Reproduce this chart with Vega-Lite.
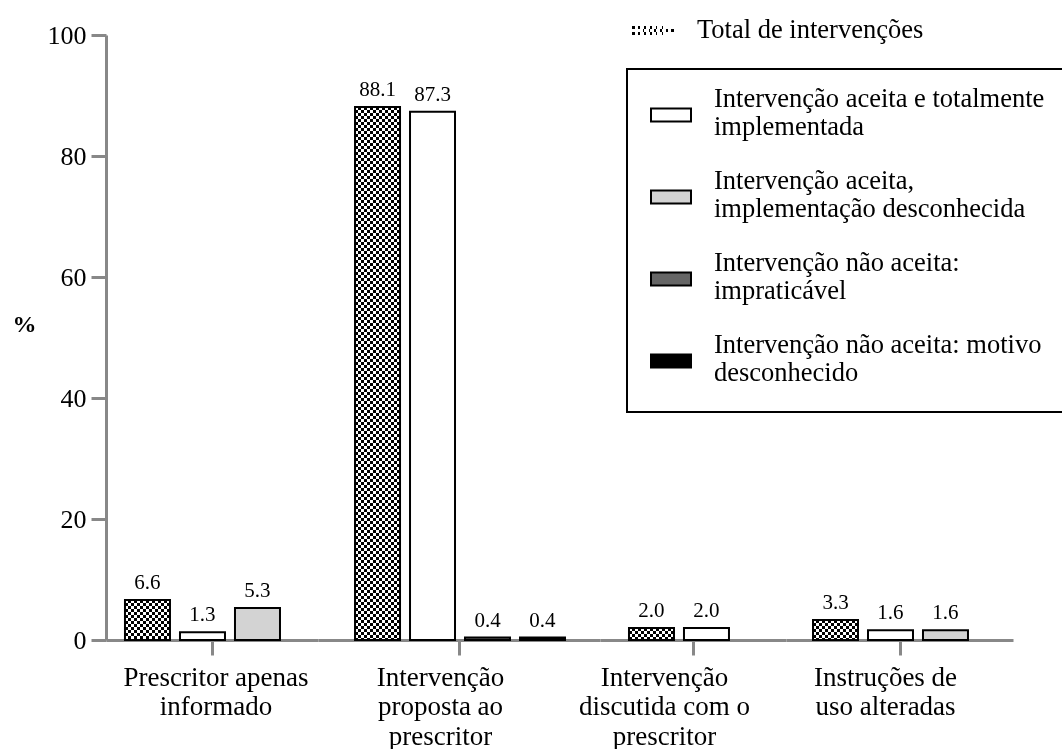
{
  "$schema": "https://vega.github.io/schema/vega-lite/v6.json",
  "background": "white",
  "padding": {"left": 12, "top": 10, "right": 0, "bottom": 0},
  "config": {"view": {"stroke": null}, "font": "Liberation Serif"},
  "datasets": {
    "d": [
      {"cat": "Prescritor apenas informado", "series": "Total de intervenções", "value": 6.6},
      {"cat": "Prescritor apenas informado", "series": "Intervenção aceita e totalmente implementada", "value": 1.3},
      {"cat": "Prescritor apenas informado", "series": "Intervenção aceita, implementação desconhecida", "value": 5.3},
      {"cat": "Intervenção proposta ao prescritor", "series": "Total de intervenções", "value": 88.1},
      {"cat": "Intervenção proposta ao prescritor", "series": "Intervenção aceita e totalmente implementada", "value": 87.3},
      {"cat": "Intervenção proposta ao prescritor", "series": "Intervenção não aceita: impraticável", "value": 0.4},
      {"cat": "Intervenção proposta ao prescritor", "series": "Intervenção não aceita: motivo desconhecido", "value": 0.4},
      {"cat": "Intervenção discutida com o prescritor", "series": "Total de intervenções", "value": 2.0},
      {"cat": "Intervenção discutida com o prescritor", "series": "Intervenção aceita e totalmente implementada", "value": 2.0},
      {"cat": "Instruções de uso alteradas", "series": "Total de intervenções", "value": 3.3},
      {"cat": "Instruções de uso alteradas", "series": "Intervenção aceita e totalmente implementada", "value": 1.6},
      {"cat": "Instruções de uso alteradas", "series": "Intervenção aceita, implementação desconhecida", "value": 1.6}
    ]
  },
  "data": {"name": "d"},
  "spacing": 0,
  "bounds": "flush",
  "resolve": {
    "scale": {"x": "independent", "y": "independent", "fill": "independent", "opacity": "independent"},
    "axis": {"x": "independent", "y": "independent"},
    "legend": {"fill": "independent", "opacity": "independent"}
  },
  "hconcat": [
    {
      "width": 212, "height": 605,
      "transform": [{"filter": "datum.cat == 'Prescritor apenas informado'"}],
      "resolve": {"scale": {"x": "independent"}, "axis": {"x": "independent"}},
      "layer": [
        {
          "encoding": {
            "x": {"field": "series", "type": "nominal", "sort": ["Total de intervenções", "Intervenção aceita e totalmente implementada", "Intervenção aceita, implementação desconhecida", "Intervenção não aceita: impraticável", "Intervenção não aceita: motivo desconhecido"], "scale": {"paddingInner": 0.1818, "paddingOuter": 0.518, "align": 0.333}, "axis": null},
            "y": {"field": "value", "type": "quantitative", "scale": {"domain": [0, 100], "nice": false},
              "axis": {"title": "%", "titleFont": "Liberation Serif", "titleFontSize": 24, "titleFontWeight": "bold", "titleColor": "black", "titleAngle": 0, "titleAlign": "center", "titleBaseline": "middle", "titleX": -82, "titleY": 289, "values": [0, 20, 40, 60, 80, 100], "domainColor": "#888888", "domainWidth": 3, "tickColor": "#888888", "tickWidth": 3, "tickSize": 15, "labelFont": "Liberation Serif", "labelFontSize": 26, "labelColor": "black", "labelPadding": 5, "grid": false}}
          },
          "layer": [
            {
              "transform": [{"filter": "datum.series == 'Total de intervenções'"}],
              "mark": {"type": "bar", "strokeWidth": 0, "fill": {"gradient": "linear", "x1": 0, "y1": 0, "x2": 1, "y2": 0, "stops": [{"offset": 0, "color": "#000"}, {"offset": 0.06667, "color": "#000"}, {"offset": 0.06667, "color": "#fff"}, {"offset": 0.13333, "color": "#fff"}, {"offset": 0.13333, "color": "#000"}, {"offset": 0.2, "color": "#000"}, {"offset": 0.2, "color": "#fff"}, {"offset": 0.26667, "color": "#fff"}, {"offset": 0.26667, "color": "#000"}, {"offset": 0.33333, "color": "#000"}, {"offset": 0.33333, "color": "#fff"}, {"offset": 0.4, "color": "#fff"}, {"offset": 0.4, "color": "#000"}, {"offset": 0.46667, "color": "#000"}, {"offset": 0.46667, "color": "#fff"}, {"offset": 0.53333, "color": "#fff"}, {"offset": 0.53333, "color": "#000"}, {"offset": 0.6, "color": "#000"}, {"offset": 0.6, "color": "#fff"}, {"offset": 0.66667, "color": "#fff"}, {"offset": 0.66667, "color": "#000"}, {"offset": 0.73333, "color": "#000"}, {"offset": 0.73333, "color": "#fff"}, {"offset": 0.8, "color": "#fff"}, {"offset": 0.8, "color": "#000"}, {"offset": 0.86667, "color": "#000"}, {"offset": 0.86667, "color": "#fff"}, {"offset": 0.93333, "color": "#fff"}, {"offset": 0.93333, "color": "#000"}, {"offset": 1, "color": "#000"}]}},
              "encoding": {
                "opacity": {"field": "series", "type": "ordinal", "scale": {"domain": ["Total de intervenções"], "range": [1, 1]},
                  "legend": {"orient": "none", "legendX": 527, "legendY": -25, "title": null, "padding": 0, "symbolType": "M-1.05,-0.2H-0.9V-0.05H-1.05ZM-0.75,-0.2H-0.6V-0.05H-0.75ZM-0.45,-0.2H-0.3V-0.05H-0.45ZM-0.15,-0.2H0V-0.05H-0.15ZM0.15,-0.2H0.3V-0.05H0.15ZM0.45,-0.2H0.6V-0.05H0.45ZM0.75,-0.2H0.9V-0.05H0.75ZM-0.9,-0.05H-0.75V0.1H-0.9ZM-0.6,-0.05H-0.45V0.1H-0.6ZM-0.3,-0.05H-0.15V0.1H-0.3ZM0,-0.05H0.15V0.1H0ZM0.3,-0.05H0.45V0.1H0.3ZM0.6,-0.05H0.75V0.1H0.6ZM0.9,-0.05H1.05V0.1H0.9ZM-1.05,0.1H-0.9V0.25H-1.05ZM-0.75,0.1H-0.6V0.25H-0.75ZM-0.45,0.1H-0.3V0.25H-0.45ZM-0.15,0.1H0V0.25H-0.15ZM0.15,0.1H0.3V0.25H0.15ZM0.45,0.1H0.6V0.25H0.45ZM0.75,0.1H0.9V0.25H0.75Z", "symbolSize": 1600, "symbolStrokeWidth": 0, "symbolFillColor": "black", "labelFont": "Liberation Serif", "labelFontSize": 26.5, "labelColor": "black", "labelOffset": 24, "labelLimit": 0,
                    "encode": {"symbols": {"update": {"fill": {"value": "black"}, "opacity": {"value": 1}, "stroke": {"value": "transparent"}}}}}}
              }
            },
            {
              "transform": [{"filter": "datum.series == 'Total de intervenções'"}],
              "mark": {"type": "rule", "stroke": "white", "strokeWidth": 45, "strokeDash": [3, 3], "blend": "difference"},
              "encoding": {"y2": {"datum": 0}}
            },
            {
              "transform": [{"filter": "datum.series == 'Total de intervenções'"}],
              "mark": {"type": "bar", "fillOpacity": 0, "stroke": "black", "strokeWidth": 2}
            },
            {
              "transform": [{"filter": "datum.series != 'Total de intervenções'"}],
              "mark": {"type": "bar", "stroke": "black", "strokeWidth": 2},
              "encoding": {
                "fill": {"field": "series", "type": "nominal", "scale": {"domain": ["Intervenção aceita e totalmente implementada", "Intervenção aceita, implementação desconhecida", "Intervenção não aceita: impraticável", "Intervenção não aceita: motivo desconhecido"], "range": ["#ffffff", "#d3d3d3", "#666666", "#000000"]},
                  "legend": {"orient": "none", "legendX": 521, "legendY": 34, "title": null, "padding": 25, "symbolOffset": -2, "labelOffset": 22, "rowPadding": 27, "strokeColor": "black", "symbolType": "M-1,-0.325H1V0.325H-1Z", "symbolSize": 1600, "symbolStrokeColor": "black", "symbolStrokeWidth": 2, "labelFont": "Liberation Serif", "labelFontSize": 26.5, "labelColor": "black", "labelLimit": 0,
                    "labelExpr": "datum.label == 'Intervenção aceita e totalmente implementada' ? ['Intervenção aceita e totalmente', 'implementada'] : datum.label == 'Intervenção aceita, implementação desconhecida' ? ['Intervenção aceita,', 'implementação desconhecida'] : datum.label == 'Intervenção não aceita: impraticável' ? ['Intervenção não aceita:', 'impraticável'] : ['Intervenção não aceita: motivo', 'desconhecido']",
                    "encode": {"labels": {"update": {"lineHeight": {"value": 28}, "dy": {"value": -16}}}, "symbols": {"update": {"stroke": {"value": "black"}, "strokeWidth": {"value": 2}}}, "legend": {"update": {"strokeWidth": {"value": 2}}}}}}
              }
            },
            {
              "mark": {"type": "text", "baseline": "alphabetic", "dy": -11, "fontSize": 21, "font": "Liberation Serif", "fill": "black"},
              "encoding": {"text": {"field": "value", "type": "quantitative", "format": ".1f"}}
            }
          ]
        },
        {
          "mark": {"type": "point", "opacity": 0},
          "encoding": {"x": {"field": "cat", "type": "nominal", "title": null,
            "axis": {"orient": "bottom", "title": null, "domainColor": "#888888", "domainWidth": 3, "tickColor": "#888888", "tickWidth": 3, "tickSize": 15, "labelAngle": 0, "labelFont": "Liberation Serif", "labelFontSize": 27, "labelColor": "black", "labelLineHeight": 29.5, "labelPadding": 9, "labelLimit": 0, "labelBaseline": "top", "labelOffset": 3.5, "grid": false, "labelExpr": "['Prescritor apenas', 'informado']"}}}
        }
      ]
    },
    {
      "width": 282, "height": 605,
      "transform": [{"filter": "datum.cat == 'Intervenção proposta ao prescritor'"}],
      "resolve": {"scale": {"x": "independent"}, "axis": {"x": "independent"}},
      "layer": [
        {
          "encoding": {
            "x": {"field": "series", "type": "nominal", "sort": ["Total de intervenções", "Intervenção aceita e totalmente implementada", "Intervenção aceita, implementação desconhecida", "Intervenção não aceita: impraticável", "Intervenção não aceita: motivo desconhecido"], "scale": {"paddingInner": 0.1818, "paddingOuter": 0.655, "align": 0.514}, "axis": null},
            "y": {"field": "value", "type": "quantitative", "scale": {"domain": [0, 100], "nice": false}, "axis": null}
          },
          "layer": [
            {
              "transform": [{"filter": "datum.series == 'Total de intervenções'"}],
              "mark": {"type": "bar", "strokeWidth": 0, "fill": {"gradient": "linear", "x1": 0, "y1": 0, "x2": 1, "y2": 0, "stops": [{"offset": 0, "color": "#000"}, {"offset": 0.06667, "color": "#000"}, {"offset": 0.06667, "color": "#fff"}, {"offset": 0.13333, "color": "#fff"}, {"offset": 0.13333, "color": "#000"}, {"offset": 0.2, "color": "#000"}, {"offset": 0.2, "color": "#fff"}, {"offset": 0.26667, "color": "#fff"}, {"offset": 0.26667, "color": "#000"}, {"offset": 0.33333, "color": "#000"}, {"offset": 0.33333, "color": "#fff"}, {"offset": 0.4, "color": "#fff"}, {"offset": 0.4, "color": "#000"}, {"offset": 0.46667, "color": "#000"}, {"offset": 0.46667, "color": "#fff"}, {"offset": 0.53333, "color": "#fff"}, {"offset": 0.53333, "color": "#000"}, {"offset": 0.6, "color": "#000"}, {"offset": 0.6, "color": "#fff"}, {"offset": 0.66667, "color": "#fff"}, {"offset": 0.66667, "color": "#000"}, {"offset": 0.73333, "color": "#000"}, {"offset": 0.73333, "color": "#fff"}, {"offset": 0.8, "color": "#fff"}, {"offset": 0.8, "color": "#000"}, {"offset": 0.86667, "color": "#000"}, {"offset": 0.86667, "color": "#fff"}, {"offset": 0.93333, "color": "#fff"}, {"offset": 0.93333, "color": "#000"}, {"offset": 1, "color": "#000"}]}}
            },
            {
              "transform": [{"filter": "datum.series == 'Total de intervenções'"}],
              "mark": {"type": "rule", "stroke": "white", "strokeWidth": 45, "strokeDash": [3, 3], "blend": "difference"},
              "encoding": {"y2": {"datum": 0}}
            },
            {
              "transform": [{"filter": "datum.series == 'Total de intervenções'"}],
              "mark": {"type": "bar", "fillOpacity": 0, "stroke": "black", "strokeWidth": 2}
            },
            {
              "transform": [{"filter": "datum.series != 'Total de intervenções'"}],
              "mark": {"type": "bar", "stroke": "black", "strokeWidth": 2},
              "encoding": {
                "fill": {"field": "series", "type": "nominal", "scale": {"domain": ["Intervenção aceita e totalmente implementada", "Intervenção aceita, implementação desconhecida", "Intervenção não aceita: impraticável", "Intervenção não aceita: motivo desconhecido"], "range": ["#ffffff", "#d3d3d3", "#666666", "#000000"]}, "legend": null}
              }
            },
            {
              "mark": {"type": "text", "baseline": "alphabetic", "dy": -11, "fontSize": 21, "font": "Liberation Serif", "fill": "black"},
              "encoding": {"text": {"field": "value", "type": "quantitative", "format": ".1f"}}
            }
          ]
        },
        {
          "mark": {"type": "point", "opacity": 0},
          "encoding": {"x": {"field": "cat", "type": "nominal", "title": null,
            "axis": {"orient": "bottom", "title": null, "domainColor": "#888888", "domainWidth": 3, "tickColor": "#888888", "tickWidth": 3, "tickSize": 15, "labelAngle": 0, "labelFont": "Liberation Serif", "labelFontSize": 27, "labelColor": "black", "labelLineHeight": 29.5, "labelPadding": 9, "labelLimit": 0, "labelBaseline": "top", "labelOffset": -19, "grid": false, "labelExpr": "['Intervenção', 'proposta ao', 'prescritor']"}}}
        }
      ]
    },
    {
      "width": 186, "height": 605,
      "transform": [{"filter": "datum.cat == 'Intervenção discutida com o prescritor'"}],
      "resolve": {"scale": {"x": "independent"}, "axis": {"x": "independent"}},
      "layer": [
        {
          "encoding": {
            "x": {"field": "series", "type": "nominal", "sort": ["Total de intervenções", "Intervenção aceita e totalmente implementada", "Intervenção aceita, implementação desconhecida", "Intervenção não aceita: impraticável", "Intervenção não aceita: motivo desconhecido"], "scale": {"paddingInner": 0.1818, "paddingOuter": 0.782, "align": 0.337}, "axis": null},
            "y": {"field": "value", "type": "quantitative", "scale": {"domain": [0, 100], "nice": false}, "axis": null}
          },
          "layer": [
            {
              "transform": [{"filter": "datum.series == 'Total de intervenções'"}],
              "mark": {"type": "bar", "strokeWidth": 0, "fill": {"gradient": "linear", "x1": 0, "y1": 0, "x2": 1, "y2": 0, "stops": [{"offset": 0, "color": "#000"}, {"offset": 0.06667, "color": "#000"}, {"offset": 0.06667, "color": "#fff"}, {"offset": 0.13333, "color": "#fff"}, {"offset": 0.13333, "color": "#000"}, {"offset": 0.2, "color": "#000"}, {"offset": 0.2, "color": "#fff"}, {"offset": 0.26667, "color": "#fff"}, {"offset": 0.26667, "color": "#000"}, {"offset": 0.33333, "color": "#000"}, {"offset": 0.33333, "color": "#fff"}, {"offset": 0.4, "color": "#fff"}, {"offset": 0.4, "color": "#000"}, {"offset": 0.46667, "color": "#000"}, {"offset": 0.46667, "color": "#fff"}, {"offset": 0.53333, "color": "#fff"}, {"offset": 0.53333, "color": "#000"}, {"offset": 0.6, "color": "#000"}, {"offset": 0.6, "color": "#fff"}, {"offset": 0.66667, "color": "#fff"}, {"offset": 0.66667, "color": "#000"}, {"offset": 0.73333, "color": "#000"}, {"offset": 0.73333, "color": "#fff"}, {"offset": 0.8, "color": "#fff"}, {"offset": 0.8, "color": "#000"}, {"offset": 0.86667, "color": "#000"}, {"offset": 0.86667, "color": "#fff"}, {"offset": 0.93333, "color": "#fff"}, {"offset": 0.93333, "color": "#000"}, {"offset": 1, "color": "#000"}]}}
            },
            {
              "transform": [{"filter": "datum.series == 'Total de intervenções'"}],
              "mark": {"type": "rule", "stroke": "white", "strokeWidth": 45, "strokeDash": [3, 3], "blend": "difference"},
              "encoding": {"y2": {"datum": 0}}
            },
            {
              "transform": [{"filter": "datum.series == 'Total de intervenções'"}],
              "mark": {"type": "bar", "fillOpacity": 0, "stroke": "black", "strokeWidth": 2}
            },
            {
              "transform": [{"filter": "datum.series != 'Total de intervenções'"}],
              "mark": {"type": "bar", "stroke": "black", "strokeWidth": 2},
              "encoding": {
                "fill": {"field": "series", "type": "nominal", "scale": {"domain": ["Intervenção aceita e totalmente implementada", "Intervenção aceita, implementação desconhecida", "Intervenção não aceita: impraticável", "Intervenção não aceita: motivo desconhecido"], "range": ["#ffffff", "#d3d3d3", "#666666", "#000000"]}, "legend": null}
              }
            },
            {
              "mark": {"type": "text", "baseline": "alphabetic", "dy": -11, "fontSize": 21, "font": "Liberation Serif", "fill": "black"},
              "encoding": {"text": {"field": "value", "type": "quantitative", "format": ".1f"}}
            }
          ]
        },
        {
          "mark": {"type": "point", "opacity": 0},
          "encoding": {"x": {"field": "cat", "type": "nominal", "title": null,
            "axis": {"orient": "bottom", "title": null, "domainColor": "#888888", "domainWidth": 3, "tickColor": "#888888", "tickWidth": 3, "tickSize": 15, "labelAngle": 0, "labelFont": "Liberation Serif", "labelFontSize": 27, "labelColor": "black", "labelLineHeight": 29.5, "labelPadding": 9, "labelLimit": 0, "labelBaseline": "top", "labelOffset": -29, "grid": false, "labelExpr": "['Intervenção', 'discutida com o', 'prescritor']"}}}
        }
      ]
    },
    {
      "width": 227, "height": 605,
      "transform": [{"filter": "datum.cat == 'Instruções de uso alteradas'"}],
      "resolve": {"scale": {"x": "independent"}, "axis": {"x": "independent"}},
      "layer": [
        {
          "encoding": {
            "x": {"field": "series", "type": "nominal", "sort": ["Total de intervenções", "Intervenção aceita e totalmente implementada", "Intervenção aceita, implementação desconhecida", "Intervenção não aceita: impraticável", "Intervenção não aceita: motivo desconhecido"], "scale": {"paddingInner": 0.1818, "paddingOuter": 0.655, "align": 0.375}, "axis": null},
            "y": {"field": "value", "type": "quantitative", "scale": {"domain": [0, 100], "nice": false}, "axis": null}
          },
          "layer": [
            {
              "transform": [{"filter": "datum.series == 'Total de intervenções'"}],
              "mark": {"type": "bar", "strokeWidth": 0, "fill": {"gradient": "linear", "x1": 0, "y1": 0, "x2": 1, "y2": 0, "stops": [{"offset": 0, "color": "#000"}, {"offset": 0.06667, "color": "#000"}, {"offset": 0.06667, "color": "#fff"}, {"offset": 0.13333, "color": "#fff"}, {"offset": 0.13333, "color": "#000"}, {"offset": 0.2, "color": "#000"}, {"offset": 0.2, "color": "#fff"}, {"offset": 0.26667, "color": "#fff"}, {"offset": 0.26667, "color": "#000"}, {"offset": 0.33333, "color": "#000"}, {"offset": 0.33333, "color": "#fff"}, {"offset": 0.4, "color": "#fff"}, {"offset": 0.4, "color": "#000"}, {"offset": 0.46667, "color": "#000"}, {"offset": 0.46667, "color": "#fff"}, {"offset": 0.53333, "color": "#fff"}, {"offset": 0.53333, "color": "#000"}, {"offset": 0.6, "color": "#000"}, {"offset": 0.6, "color": "#fff"}, {"offset": 0.66667, "color": "#fff"}, {"offset": 0.66667, "color": "#000"}, {"offset": 0.73333, "color": "#000"}, {"offset": 0.73333, "color": "#fff"}, {"offset": 0.8, "color": "#fff"}, {"offset": 0.8, "color": "#000"}, {"offset": 0.86667, "color": "#000"}, {"offset": 0.86667, "color": "#fff"}, {"offset": 0.93333, "color": "#fff"}, {"offset": 0.93333, "color": "#000"}, {"offset": 1, "color": "#000"}]}}
            },
            {
              "transform": [{"filter": "datum.series == 'Total de intervenções'"}],
              "mark": {"type": "rule", "stroke": "white", "strokeWidth": 45, "strokeDash": [3, 3], "blend": "difference"},
              "encoding": {"y2": {"datum": 0}}
            },
            {
              "transform": [{"filter": "datum.series == 'Total de intervenções'"}],
              "mark": {"type": "bar", "fillOpacity": 0, "stroke": "black", "strokeWidth": 2}
            },
            {
              "transform": [{"filter": "datum.series != 'Total de intervenções'"}],
              "mark": {"type": "bar", "stroke": "black", "strokeWidth": 2},
              "encoding": {
                "fill": {"field": "series", "type": "nominal", "scale": {"domain": ["Intervenção aceita e totalmente implementada", "Intervenção aceita, implementação desconhecida", "Intervenção não aceita: impraticável", "Intervenção não aceita: motivo desconhecido"], "range": ["#ffffff", "#d3d3d3", "#666666", "#000000"]}, "legend": null}
              }
            },
            {
              "mark": {"type": "text", "baseline": "alphabetic", "dy": -11, "fontSize": 21, "font": "Liberation Serif", "fill": "black"},
              "encoding": {"text": {"field": "value", "type": "quantitative", "format": ".1f"}}
            }
          ]
        },
        {
          "mark": {"type": "point", "opacity": 0},
          "encoding": {"x": {"field": "cat", "type": "nominal", "title": null,
            "axis": {"orient": "bottom", "title": null, "domainColor": "#888888", "domainWidth": 3, "tickColor": "#888888", "tickWidth": 3, "tickSize": 15, "labelAngle": 0, "labelFont": "Liberation Serif", "labelFontSize": 27, "labelColor": "black", "labelLineHeight": 29.5, "labelPadding": 9, "labelLimit": 0, "labelBaseline": "top", "labelOffset": -14.5, "grid": false, "labelExpr": "['Instruções de', 'uso alteradas']"}}}
        }
      ]
    }
  ]
}
